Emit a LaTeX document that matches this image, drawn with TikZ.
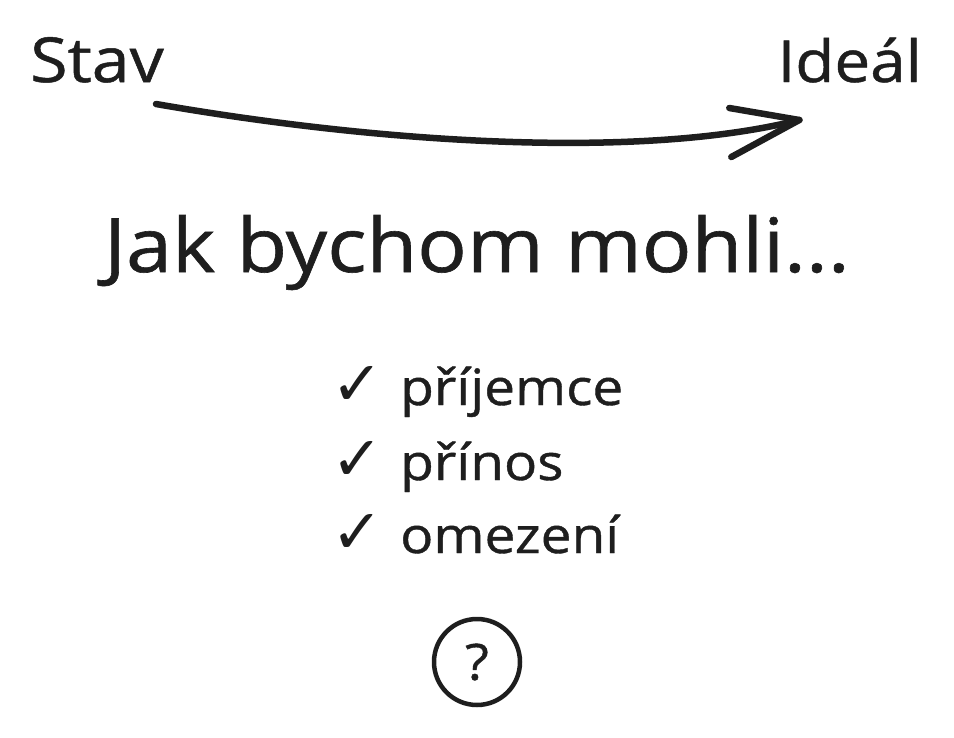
\documentclass[tikz,border=0pt]{standalone}
\usepackage{fontspec}
\setmainfont{Open Sans}[FakeStretch=1.1,FakeBold=0.8]
\newfontfamily\symbolfont{DejaVu Sans}
\usetikzlibrary{calc}
\definecolor{inkcolor}{HTML}{1E1E1E}
\tikzstyle{sketchline}=[line width=6.5pt,line cap=round,line join=round,draw=inkcolor]
\tikzstyle{labeltext}=[inner sep=0pt,text=inkcolor]
\newcommand{\checkitem}[3]{% Syntax: {name}{baseline y}{word}
	\node[labeltext,anchor=base west] (tick#1) at (331,#2) {\fontsize{62}{62}\symbolfont ✓};
	\node[labeltext,anchor=base west] (#1) at (400,#2) {\fontsize{50}{50}\selectfont #3};
}

\begin{document}
\begin{tikzpicture}[x=1pt,y=-1pt]
	\useasboundingbox (0,0) rectangle (954,737);
	\node[labeltext,anchor=base west] (stav) at (30,82) {\fontsize{62}{62}\selectfont Stav};
	\node[labeltext,anchor=base east] (ideal) at (922,82) {\fontsize{58}{58}\selectfont Ideál};
	% the bent arrow between the two labels
	\coordinate (from) at ($(stav.base east)+(-8,22)$);
	\coordinate (to) at ($(ideal.base west)+(22,38)$);
	\draw[sketchline] (from) .. controls (380,143) and (640,160) .. (to);
	\draw[sketchline] (to) -- ++(-70,-12);
	\draw[sketchline] (to) -- ++(-68,37);
	\node[labeltext,anchor=base] (title) at (477,272) {\fontsize{75}{75}\selectfont Jak bychom mohli...};
	\checkitem{prijemce}{405}{příjemce}
	\checkitem{prinos}{480}{přínos}
	\checkitem{omezeni}{553}{omezení}
	\node[circle,draw=inkcolor,line width=4.5pt,minimum size=86pt,inner sep=0pt,text=inkcolor] (question) at (477,662) {\fontsize{50}{50}\selectfont ?};
\end{tikzpicture}
\end{document}
